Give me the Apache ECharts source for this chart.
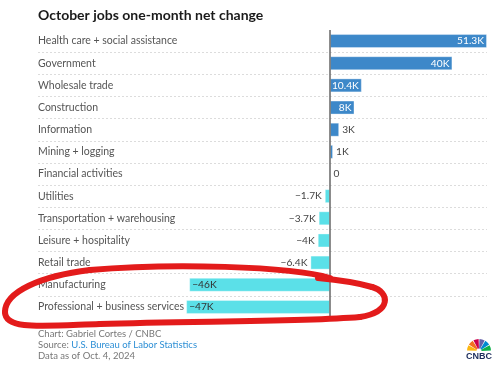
<!DOCTYPE html>
<html>
<head>
<meta charset="utf-8">
<script src="https://cdn.jsdelivr.net/npm/echarts@6/dist/echarts.min.js"></script>
<style>
html,body{margin:0;padding:0;background:#fff;}
#chart{width:500px;height:373px;}
</style>
</head>
<body>
<div id="chart"></div>
<script>
const categories = [
  "Health care + social assistance",
  "Government",
  "Wholesale trade",
  "Construction",
  "Information",
  "Mining + logging",
  "Financial activities",
  "Utilities",
  "Transportation + warehousing",
  "Leisure + hospitality",
  "Retail trade",
  "Manufacturing",
  "Professional + business services"
];
const values = [51.3, 40, 10.4, 8, 3, 1, 0, -1.7, -3.7, -4, -6.4, -46, -47];
const labelTexts = ["51.3K", "40K", "10.4K", "8K", "3K", "1K", "0", "\u22121.7K", "\u22123.7K", "\u22124K", "\u22126.4K", "\u221246K", "\u221247K"];

const FONT = "Lato, 'Open Sans', sans-serif";
const POS = "#3d88c9";
const NEG = "#5be0e8";

const seriesData = values.map((v, i) => {
  let pos, color;
  if (v >= 8) { pos = "insideRight"; color = "#ffffff"; }
  else if (v >= 0) { pos = "right"; color = "#444"; }
  else if (v > -20) { pos = "left"; color = "#444"; }
  else { pos = "insideLeft"; color = "#333"; }
  return {
    value: v,
    itemStyle: { color: v >= 0 ? POS : NEG },
    label: { show: true, position: pos, color: color, formatter: labelTexts[i], distance: 3 }
  };
});

const loop = [
  [330,278, 290,266, 170,263, 90,270],
  [90,270, 40,276, 5,292, 5,312],
  [5,312, 5,330, 40,326, 100,324],
  [100,324, 200,321, 300,322, 360,317],
  [360,317, 392,312, 390,292, 372,287],
  [372,287, 355,282, 340,280, 318,278]
].map(s => ({
  type: "bezierCurve", z: 100,
  shape: { x1: s[0], y1: s[1], cpx1: s[2], cpy1: s[3], cpx2: s[4], cpy2: s[5], x2: s[6], y2: s[7] },
  style: { stroke: "#e31b1b", lineWidth: 6, fill: null, lineCap: "round" }
}));

const feathers = ["#fcb711", "#f37021", "#cc004c", "#6460aa", "#0089d0", "#0db14b"].map((c, k) => ({
  type: "sector",
  shape: { cx: 10.5, cy: 13, r0: 2.5, r: 12, startAngle: Math.PI + 0.05 + k * 0.52, endAngle: Math.PI + 0.5 + k * 0.52 },
  style: { fill: c }
}));

const chart = echarts.init(document.getElementById("chart"), null, { renderer: "canvas" });
chart.setOption({
  animation: false,
  backgroundColor: "#fff",
  textStyle: { fontFamily: FONT },
  grid: { left: 38, right: 13, top: 30, bottom: 55, containLabel: false },
  xAxis: {
    type: "value", min: -95.4, max: 51.3,
    axisLabel: { show: false }, axisLine: { show: false }, axisTick: { show: false },
    splitLine: { show: false }
  },
  yAxis: {
    type: "category", inverse: true, data: categories,
    axisLine: { show: false }, axisTick: { show: false },
    axisLabel: { inside: true, margin: 0, align: "left", color: "#555", fontSize: 10.5, fontFamily: FONT },
    splitLine: { show: true, showMinLine: false, showMaxLine: false,
      lineStyle: { color: "#dcdcdc", type: [2, 2], width: 1 } }
  },
  series: [{
    type: "bar",
    data: seriesData,
    barWidth: 14,
    itemStyle: { borderColor: "rgba(255,255,255,0.35)", borderWidth: 1 },
    label: { fontSize: 10.2, fontFamily: FONT },
    markLine: {
      silent: true, symbol: "none", label: { show: false },
      lineStyle: { color: "#666", type: "solid", width: 1.5 },
      data: [{ xAxis: 0 }]
    }
  }],
  graphic: [
    { type: "text", left: 38, top: 8,
      style: { text: "October jobs one-month net change", font: "bold 14px " + FONT, fill: "#1a1a1a" } },
    { type: "text", left: 38, top: 329,
      style: { text: "Chart: Gabriel Cortes / CNBC", font: "9.5px " + FONT, fill: "#777" } },
    { type: "text", left: 38, top: 340,
      style: { text: "{g|Source: }{b|U.S. Bureau of Labor Statistics}", font: "9.5px " + FONT,
        rich: { g: { fill: "#777", font: "9.5px " + FONT }, b: { fill: "#2d8fd5", font: "9.5px " + FONT } } } },
    { type: "text", left: 38, top: 351,
      style: { text: "Data as of Oct. 4, 2024", font: "9.5px " + FONT, fill: "#777" } },
    ...loop,
    { type: "group", left: 466, top: 339, children: [
      ...feathers,
      { type: "text", x: 10.5, y: 14, style: { text: "CNBC", font: "bold 9px Arial, 'Liberation Sans', sans-serif", fill: "#1c2c5b", align: "center", verticalAlign: "top" } }
    ] }
  ]
});
</script>
</body>
</html>
